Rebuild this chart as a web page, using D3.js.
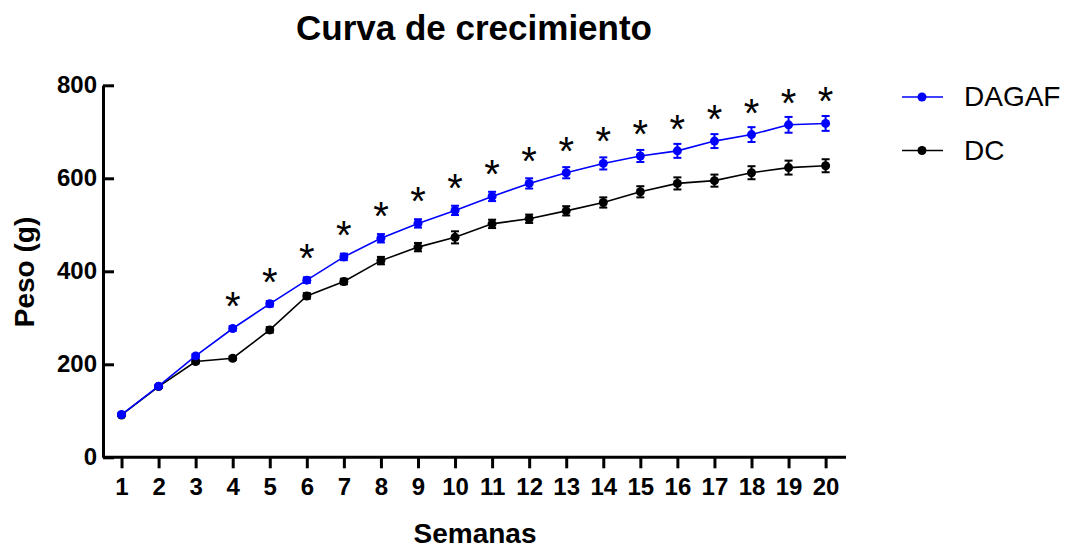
<!DOCTYPE html>
<html>
<head>
<meta charset="utf-8">
<script src="https://cdn.jsdelivr.net/npm/d3@7"></script>
<style>
  body { margin: 0; background: #fff; }
  text { font-family: "Liberation Sans", Arial, sans-serif; }
</style>
</head>
<body>
<script>
var weeks = [1, 2, 3, 4, 5, 6, 7, 8, 9, 10, 11, 12, 13, 14, 15, 16, 17, 18, 19, 20];
var dagaf = [92, 153, 218, 277, 330, 381, 431, 471, 503, 531, 561, 589, 612, 632, 648, 659, 680, 694, 715, 718];
var dagafSem = [3, 3, 4, 5, 6, 6, 7, 9, 9, 10, 10, 11, 12, 13, 13, 15, 15, 16, 17, 16];
var dc = [91, 152, 206, 213, 274, 347, 378, 423, 452, 473, 502, 513, 530, 548, 571, 589, 595, 612, 623, 627];
var dcSem = [3, 3, 4, 4, 6, 6, 6, 8, 9, 13, 9, 9, 10, 11, 12, 13, 13, 14, 15, 14];
var sigWeeks = [4, 5, 6, 7, 8, 9, 10, 11, 12, 13, 14, 15, 16, 17, 18, 19, 20];
var yTicks = [0, 200, 400, 600, 800];

var series = [
    {name: "DAGAF", values: dagaf, sem: dagafSem, color: "#0000ff"},
    {name: "DC", values: dc, sem: dcSem, color: "#000000"}
];

var svg = d3.select('body').append('svg')
    .attr('width', 1067)
    .attr('height', 550);

var x = d3.scaleLinear().domain([0.5, 20.55]).range([103, 846]);
var y = d3.scaleLinear().domain([0, 800]).range([457.3, 85.3]);

// title
svg.append('text')
    .attr('x', 474)
    .attr('y', 40)
    .attr('text-anchor', 'middle')
    .style('font-size', '35px')
    .style('font-weight', 'bold')
    .text('Curva de crecimiento');

// axes
var xAxis = svg.append('g')
    .attr('transform', 'translate(0,' + y(0) + ')')
    .call(d3.axisBottom(x).tickValues(weeks).tickFormat(d3.format('d'))
        .tickSizeInner(11).tickSizeOuter(0).tickPadding(10));

var yAxis = svg.append('g')
    .attr('transform', 'translate(' + x(0.5) + ',0)')
    .call(d3.axisLeft(y).tickValues(yTicks)
        .tickSizeInner(-11).tickSizeOuter(0).tickPadding(6));

[xAxis, yAxis].forEach(function(a) {
    a.select('.domain').attr('stroke', '#000').attr('stroke-width', 3);
    a.selectAll('.tick line').attr('stroke', '#000').attr('stroke-width', 3);
    a.selectAll('.tick text')
        .attr('fill', '#000')
        .style('font-size', '24px')
        .style('font-weight', 'bold')
        .style('font-family', '"Liberation Sans", Arial, sans-serif');
});
xAxis.select('.domain').attr('d', 'M' + x(0.5) + ',0H' + x(20.55));

svg.append('text')
    .attr('x', 475)
    .attr('y', 543)
    .attr('text-anchor', 'middle')
    .style('font-size', '28px')
    .style('font-weight', 'bold')
    .text('Semanas');

svg.append('text')
    .attr('transform', 'translate(34,272) rotate(-90)')
    .attr('text-anchor', 'middle')
    .style('font-size', '28px')
    .style('font-weight', 'bold')
    .text('Peso (g)');

// lines, error bars, markers
var line = d3.line()
    .x((d, i) => x(weeks[i]))
    .y((d) => y(d));

series.slice().reverse().forEach(function(s) {
    var g = svg.append('g');

    g.append('path')
        .attr('d', line(s.values))
        .attr('fill', 'none')
        .attr('stroke', s.color)
        .attr('stroke-width', 1.6);

    var bars = g.selectAll('.err')
        .data(s.values)
        .enter()
        .append('g')
        .attr('stroke', s.color)
        .attr('stroke-width', 2);

    bars.append('line')
        .attr('x1', (d, i) => x(weeks[i]))
        .attr('x2', (d, i) => x(weeks[i]))
        .attr('y1', (d, i) => y(d - s.sem[i]))
        .attr('y2', (d, i) => y(d + s.sem[i]));
    bars.append('line')
        .attr('x1', (d, i) => x(weeks[i]) - 4)
        .attr('x2', (d, i) => x(weeks[i]) + 4)
        .attr('y1', (d, i) => y(d + s.sem[i]))
        .attr('y2', (d, i) => y(d + s.sem[i]));
    bars.append('line')
        .attr('x1', (d, i) => x(weeks[i]) - 4)
        .attr('x2', (d, i) => x(weeks[i]) + 4)
        .attr('y1', (d, i) => y(d - s.sem[i]))
        .attr('y2', (d, i) => y(d - s.sem[i]));

    g.selectAll('circle')
        .data(s.values)
        .enter()
        .append('circle')
        .attr('cx', (d, i) => x(weeks[i]))
        .attr('cy', (d) => y(d))
        .attr('r', 4.5)
        .attr('fill', s.color);
});

// significance marks
svg.selectAll('.star')
    .data(sigWeeks)
    .enter()
    .append('text')
    .attr('class', 'star')
    .attr('x', (d) => x(d))
    .attr('y', (d) => y(dagaf[d - 1]) - 24 + 16)
    .attr('text-anchor', 'middle')
    .style('font-size', '40px')
    .text('*');

// legend
var legend = svg.selectAll('.legend')
    .data(series)
    .enter()
    .append('g')
    .attr('class', 'legend')
    .attr('transform', (d, i) => 'translate(0,' + (97 + i * 53.5) + ')');

legend.append('line')
    .attr('x1', 902)
    .attr('x2', 943)
    .attr('stroke', (d) => d.color)
    .attr('stroke-width', 1.6);

legend.append('circle')
    .attr('cx', 922)
    .attr('r', 4.5)
    .attr('fill', (d) => d.color);

legend.append('text')
    .attr('x', 964)
    .attr('y', 9)
    .style('font-size', '28px')
    .text((d) => d.name);
</script>
</body>
</html>
